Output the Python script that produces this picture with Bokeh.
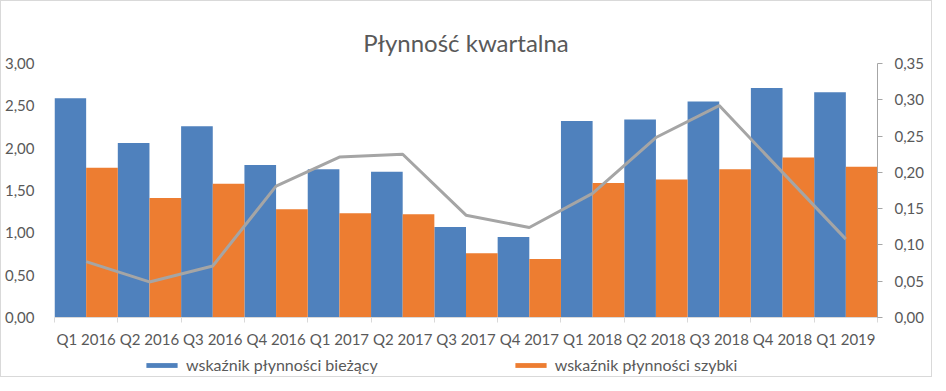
import numpy as np
from bokeh.plotting import figure
from bokeh.layouts import column
from bokeh.models import (Range1d, LinearAxis, FixedTicker, CustomJSTickFormatter,
                          Legend, LegendItem, ColumnDataSource)
from bokeh.embed import file_html
from bokeh.resources import INLINE

quarters = ["Q1 2016", "Q2 2016", "Q3 2016", "Q4 2016", "Q1 2017", "Q2 2017", "Q3 2017",
            "Q4 2017", "Q1 2018", "Q2 2018", "Q3 2018", "Q4 2018", "Q1 2019"]
biezacy = [2.59, 2.06, 2.26, 1.80, 1.75, 1.72, 1.07, 0.95, 2.32, 2.34, 2.55, 2.71, 2.66]
szybki = [1.77, 1.41, 1.58, 1.28, 1.23, 1.22, 0.76, 0.69, 1.59, 1.63, 1.75, 1.89, 1.78]
gotowkowy = [0.077, 0.049, 0.071, 0.181, 0.221, 0.225, 0.141, 0.124, 0.171, 0.248, 0.292, 0.200, 0.108]
left_ticks = [0.0, 0.5, 1.0, 1.5, 2.0, 2.5, 3.0]
right_ticks = [0.0, 0.05, 0.10, 0.15, 0.20, 0.25, 0.30, 0.35]
series_names = ["wskaźnik płynności bieżący", "wskaźnik płynności szybki"]

FONT = "Lato"
TXT = "#595959"
BLUE = "#4F81BD"
ORANGE = "#ED7D31"

n = len(quarters)
idx = np.arange(n)
src = ColumnDataSource(dict(
    xb=idx + 0.25, xs=idx + 0.75, xc=idx + 0.5,
    b=biezacy, s=szybki, g=gotowkowy, q=quarters))

p = figure(width=930, height=349, output_backend="svg", toolbar_location=None,
           x_range=Range1d(0, n), y_range=Range1d(0, 3.0),
           min_border_left=51, min_border_right=54, min_border_top=62, min_border_bottom=29)
p.extra_y_ranges = {"right": Range1d(0, 0.35)}
p.outline_line_color = None
p.xgrid.grid_line_color = None
p.ygrid.grid_line_color = None
p.background_fill_color = "white"
p.border_fill_color = "white"

p.title.text = "Płynność kwartalna"
p.title.align = "center"
p.title.text_font = FONT
p.title.text_font_size = "24px"
p.title.text_font_style = "normal"
p.title.text_color = TXT
p.title.standoff = 14

rb = p.vbar(x="xb", top="b", width=0.5, source=src, color=BLUE, line_color=None)
rs = p.vbar(x="xs", top="s", width=0.5, source=src, color=ORANGE, line_color=None)
rl = p.line(x="xc", y="g", source=src, y_range_name="right", line_color="#A5A5A5", line_width=3)

# left axis
ya = p.yaxis[0]
ya.ticker = FixedTicker(ticks=left_ticks)
ya.formatter = CustomJSTickFormatter(code="return tick.toFixed(2).replace('.', ',');")
ya.axis_line_color = None
ya.major_tick_line_color = None
ya.minor_tick_line_color = None
ya.major_label_text_font = FONT
ya.major_label_text_font_size = "15px"
ya.major_label_text_color = TXT
ya.major_label_standoff = 14

# right axis
ra = LinearAxis(y_range_name="right", ticker=FixedTicker(ticks=right_ticks),
                formatter=CustomJSTickFormatter(code="return tick.toFixed(2).replace('.', ',');"))
ra.axis_line_color = "#A6A6A6"
ra.major_tick_line_color = "#A6A6A6"
ra.major_tick_out = 5
ra.major_tick_in = 0
ra.minor_tick_line_color = None
ra.major_label_text_font = FONT
ra.major_label_text_font_size = "15px"
ra.major_label_text_color = TXT
ra.major_label_standoff = 12
p.add_layout(ra, "right")

# bottom axis
xa = p.xaxis[0]
xa.ticker = FixedTicker(ticks=list(idx + 0.5), minor_ticks=list(np.arange(n + 1)))
xa.formatter = CustomJSTickFormatter(args=dict(labels=quarters),
                                     code="return labels[Math.floor(tick)];")
xa.axis_line_color = "#D9D9D9"
xa.major_tick_line_color = None
xa.minor_tick_line_color = "#D9D9D9"
xa.minor_tick_out = 5
xa.minor_tick_in = 0
xa.major_label_text_font = FONT
xa.major_label_text_font_size = "15px"
xa.major_label_text_color = TXT
xa.major_label_standoff = 6

# legend strip below the chart (its bars lie outside the visible range)
p2 = figure(width=930, height=26, output_backend="svg", toolbar_location=None,
            x_range=Range1d(0, n), y_range=Range1d(10, 11),
            x_axis_type=None, y_axis_type=None,
            min_border_left=0, min_border_right=0, min_border_top=0, min_border_bottom=0)
p2.outline_line_color = None
p2.xgrid.grid_line_color = None
p2.ygrid.grid_line_color = None
p2.border_fill_color = "white"
p2.background_fill_color = "white"
lb = p2.vbar(x="xb", top="b", width=0.5, source=src, color=BLUE, line_color=None)
ls = p2.vbar(x="xs", top="s", width=0.5, source=src, color=ORANGE, line_color=None)
legend = Legend(items=[LegendItem(label=series_names[0], renderers=[lb], index=0),
                       LegendItem(label=series_names[1], renderers=[ls], index=0)],
                orientation="horizontal", location=(88, 2),
                label_text_font=FONT, label_text_font_size="16px", label_text_color=TXT,
                glyph_width=39, glyph_height=6, label_standoff=5, spacing=133,
                label_height=18, border_line_color=None, background_fill_alpha=0,
                padding=2, margin=0)
p2.add_layout(legend, "center")

layout = column(p, p2, spacing=0, styles={"border": "1px solid #D9D9D9"})

open("out.html", "w").write(file_html(layout, INLINE))
